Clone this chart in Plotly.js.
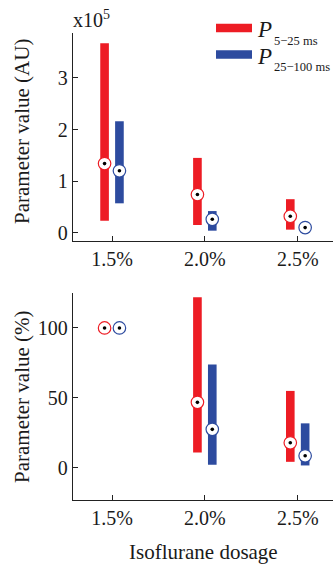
<!DOCTYPE html>
<html><head><meta charset="utf-8">
<script src="https://cdn.plot.ly/plotly-3.0.1.min.js"></script>
<style>html,body{margin:0;padding:0;background:#fff}#plot{width:333px;height:565px}</style>
</head><body><div id="plot"></div>
<script>
const categories = ['1.5%', '2.0%', '2.5%'];
// Top panel (x10^5 AU)
const topRedLow = [0.23, 0.15, 0.06];
const topRedHigh = [3.67, 1.45, 0.65];
const topRedMedian = [1.34, 0.74, 0.32];
const topBlueLow = [0.57, 0.04, 0.05];
const topBlueHigh = [2.16, 0.42, 0.15];
const topBlueMedian = [1.20, 0.26, 0.10];
// Bottom panel (%)
const botRedLow = [100, 11, 4.3];
const botRedHigh = [100, 122, 55];
const botRedMedian = [100, 46.8, 17.9];
const botBlueLow = [100, 2.2, 1.7];
const botBlueHigh = [100, 73.8, 31.8];
const botBlueMedian = [100, 27.5, 8.6];

const RED = '#ED1C24', BLUE = '#2D4B9F';
const OFF = 0.08, BW = 0.093;
const FONT = 'Liberation Serif, Times New Roman, serif';
const TXT = '#1a1a1a';
const pos = categories.map((c, i) => i);

function bars(low, high, color, dx, xa, ya) {
  return {type: 'bar', x: pos.map(p => p + dx), base: low, y: high.map((h, i) => h - low[i]),
    width: BW, marker: {color: color, line: {width: 0}}, xaxis: xa, yaxis: ya,
    showlegend: false, hoverinfo: 'skip'};
}
function meds(med, color, dx, xa, ya) {
  return [
    {type: 'scatter', mode: 'markers', x: pos.map(p => p + dx), y: med, xaxis: xa, yaxis: ya,
     marker: {symbol: 'circle', size: 12.5, color: '#fff', line: {color: color, width: 1.2}},
     showlegend: false, hoverinfo: 'skip', cliponaxis: false},
    {type: 'scatter', mode: 'markers', x: pos.map(p => p + dx), y: med, xaxis: xa, yaxis: ya,
     marker: {symbol: 'circle', size: 3.6, color: '#000'},
     showlegend: false, hoverinfo: 'skip', cliponaxis: false}
  ];
}

const data = [
  bars(topRedLow, topRedHigh, RED, -OFF, 'x', 'y'),
  bars(topBlueLow, topBlueHigh, BLUE, OFF, 'x', 'y'),
  ...meds(topRedMedian, RED, -OFF, 'x', 'y'),
  ...meds(topBlueMedian, BLUE, OFF, 'x', 'y'),
  bars(botRedLow, botRedHigh, RED, -OFF, 'x2', 'y2'),
  bars(botBlueLow, botBlueHigh, BLUE, OFF, 'x2', 'y2'),
  ...meds(botRedMedian, RED, -OFF, 'x2', 'y2'),
  ...meds(botBlueMedian, BLUE, OFF, 'x2', 'y2')
];

const W = 333, H = 565;
const px = v => v / W, py = v => 1 - v / H;

const xaxisBase = {
  range: [-0.42, 2.38], tickvals: pos, ticktext: categories,
  showline: true, linecolor: '#222', linewidth: 1.2, ticks: 'inside', ticklen: 5, tickcolor: '#222',
  showgrid: false, zeroline: false, tickfont: {family: FONT, size: 20, color: TXT},
  domain: [px(73), 1]
};
const yaxisBase = {
  showline: true, linecolor: '#222', linewidth: 1.2, ticks: 'inside', ticklen: 5, tickcolor: '#222',
  showgrid: false, zeroline: false, tickfont: {family: FONT, size: 20, color: TXT}
};

function ann(x, y, text, size, opts) {
  return Object.assign({xref: 'paper', yref: 'paper', x: px(x), y: py(y), text: text,
    showarrow: false, xanchor: 'center', yanchor: 'middle',
    font: {family: FONT, size: size, color: TXT}}, opts || {});
}

const layout = {
  width: W, height: H, margin: {l: 0, r: 0, t: 0, b: 0},
  paper_bgcolor: '#fff', plot_bgcolor: '#fff', barmode: 'overlay', showlegend: false,
  xaxis: Object.assign({}, xaxisBase, {anchor: 'y'}),
  yaxis: Object.assign({}, yaxisBase, {domain: [py(241), py(33)], range: [-0.16, 3.87],
    tickvals: [0, 1, 2, 3], anchor: 'x'}),
  xaxis2: Object.assign({}, xaxisBase, {anchor: 'y2'}),
  yaxis2: Object.assign({}, yaxisBase, {domain: [py(500), py(293)], range: [-23, 125],
    tickvals: [0, 50, 100], anchor: 'x2'}),
  shapes: [
    {type: 'line', xref: 'paper', yref: 'paper', x0: px(216), x1: px(252), y0: py(28), y1: py(28),
     line: {color: RED, width: 8.5}},
    {type: 'line', xref: 'paper', yref: 'paper', x0: px(216), x1: px(252), y0: py(54.5), y1: py(54.5),
     line: {color: BLUE, width: 8.5}}
  ],
  annotations: [
    ann(22, 132, 'Parameter value (AU)', 21, {textangle: -90}),
    ann(22, 397, 'Parameter value (%)', 21, {textangle: -90}),
    ann(203, 552, 'Isoflurane dosage', 21),
    ann(71, 19, 'x10<sup>5</sup>', 20, {xanchor: 'left'}),
    ann(255, 30, '<i>P</i>', 23, {xanchor: 'left'}),
    ann(272, 41, '5\u221225 ms', 12.5, {xanchor: 'left'}),
    ann(255, 56, '<i>P</i>', 23, {xanchor: 'left'}),
    ann(272, 67, '25\u2212100 ms', 12.5, {xanchor: 'left'})
  ]
};

Plotly.newPlot('plot', data, layout, {staticPlot: true, displayModeBar: false});
</script></body></html>
